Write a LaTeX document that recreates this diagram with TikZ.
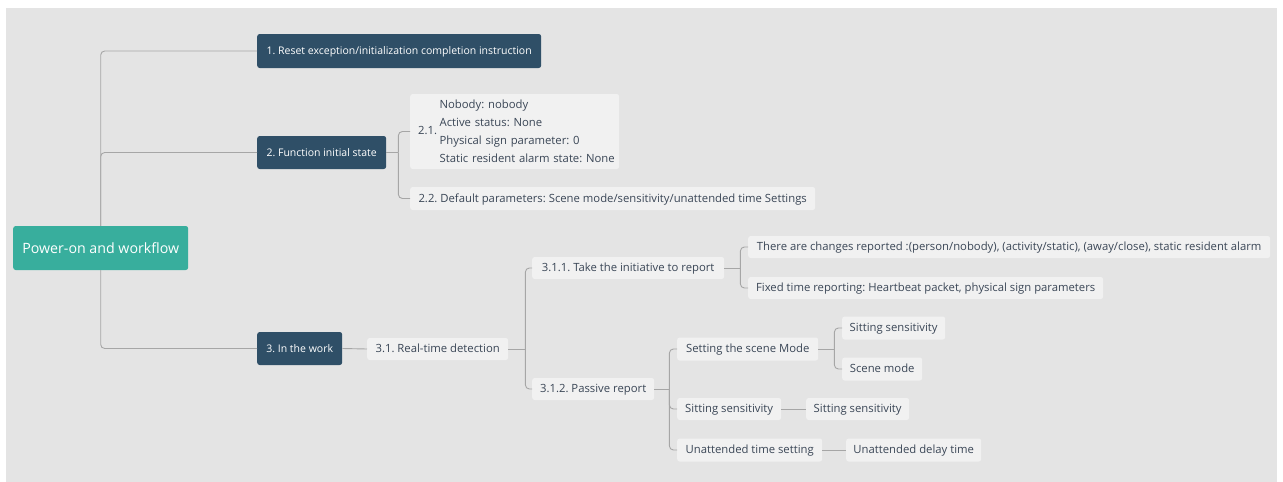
\documentclass[tikz,border=0pt]{standalone}
\usepackage{fontspec}
\setmainfont{Open Sans}
\frenchspacing
\definecolor{bgc}{HTML}{E4E4E4}
\definecolor{rootc}{HTML}{38AE9D}
\definecolor{darkc}{HTML}{2F4F67}
\definecolor{lightc}{HTML}{F1F1F1}
\definecolor{linec}{HTML}{A6A6A6}
\definecolor{txtc}{HTML}{3A4656}
\tikzset{
  box/.style={rounded corners=2.5pt, inner xsep=0pt, inner ysep=0pt, anchor=west,
    text height=10.5pt, text depth=2.6pt, font=\fontsize{11.3}{13}\selectfont\frenchspacing},
  rootbox/.style={box, fill=rootc, text=white, font=\fontsize{14.2}{17}\selectfont,
    text height=13pt, text depth=3pt},
  darkbox/.style={box, fill=darkc, text=white, font=\fontsize{10.5}{13}\selectfont},
  lightbox/.style={box, fill=lightc, text=txtc},
  conn/.style={draw=linec, line width=0.9pt, rounded corners=4pt},
  bx/.style 2 args={minimum width=#1pt, minimum height=#2pt},
}
\begin{document}
\begin{tikzpicture}[x=1pt,y=-1pt]
\useasboundingbox (0,0) rectangle (1283,482);
\fill[bgc] (6,8) rectangle (1277,482);

\node[rootbox, bx={175}{44}] (root) at (13,248) {Power-on and workflow};
\node[darkbox, bx={284}{34}] (n1) at (257,51) {1. Reset exception/initialization completion instruction};
\node[darkbox, bx={129}{33}] (n2) at (257,152.5) {2. Function initial state};
\node[darkbox, bx={85}{33}] (n3) at (257,348.5) {3. In the work};

\node[lightbox, bx={209}{75}, text width=209pt, align=left, text height=, text depth=] (n21) at (410,131.5)
  {\hspace{8pt}2.1.\hspace{2.5pt}{\def\arraystretch{1.385}\begin{tabular}[c]{@{}l@{}}Nobody: nobody\\Active status: None\\Physical sign parameter: 0\\Static resident alarm state: None\end{tabular}}};
\node[lightbox, bx={405}{23}] (n22) at (410,198.5) {2.2. Default parameters: Scene mode/sensitivity/unattended time Settings};

\node[lightbox, bx={141}{22}] (n31) at (367,349) {3.1. Real-time detection};
\node[lightbox, bx={192}{22}] (n311) at (532,268) {3.1.1. Take the initiative to report};
\node[lightbox, bx={522}{22}] (n3111) at (748,247) {There are changes reported :(person/nobody), (activity/static), (away/close), static resident alarm};
\node[lightbox, bx={355}{22}] (n3112) at (748,288) {Fixed time reporting: Heartbeat packet, physical sign parameters};
\node[lightbox, bx={122}{22}] (n312) at (532,389) {3.1.2. Passive report};

\node[lightbox, bx={141}{23}] (s1) at (677,349) {Setting the scene Mode};
\node[lightbox, bx={104}{22}] (s2) at (677,409) {Sitting sensitivity};
\node[lightbox, bx={145}{23}] (s3) at (677,450) {Unattended time setting};
\node[lightbox, bx={103}{23}] (s11) at (842,328) {Sitting sensitivity};
\node[lightbox, bx={80}{23}] (s12) at (842,369) {Scene mode};
\node[lightbox, bx={103}{22}] (s21) at (806,409) {Sitting sensitivity};
\node[lightbox, bx={135}{23}] (s31) at (846,450) {Unattended delay time};

% connectors
\draw[conn] (root.north) |- (n1.west);
\draw[conn] (root.north) |- (n2.west);
\draw[conn] (root.south) |- (n3.west);

\path (n2.east) ++(12,0) coordinate (j2);
\draw[conn] (n2.east) -- (j2);
\draw[conn] (j2) |- (n21.west);
\draw[conn] (j2) |- (n22.west);

\draw[conn] (n3.east) -- (n31.west);

\path (n31.east) ++(17,0) coordinate (j31);
\draw[conn] (n31.east) -- (j31);
\draw[conn] (j31) |- (n311.west);
\draw[conn] (j31) |- (n312.west);

\path (n311.east) ++(16,0) coordinate (j311);
\draw[conn] (n311.east) -- (j311);
\draw[conn] (j311) |- (n3111.west);
\draw[conn] (j311) |- (n3112.west);

\path (n312.east) ++(15,0) coordinate (j312);
\draw[conn] (n312.east) -- (j312);
\draw[conn] (j312) |- (s1.west);
\draw[conn] (j312) |- (s2.west);
\draw[conn] (j312) |- (s3.west);

\path (s1.east) ++(16,0) coordinate (js1);
\draw[conn] (s1.east) -- (js1);
\draw[conn] (js1) |- (s11.west);
\draw[conn] (js1) |- (s12.west);

\draw[conn] (s2.east) -- (s21.west);
\draw[conn] (s3.east) -- (s31.west);
\end{tikzpicture}
\end{document}
